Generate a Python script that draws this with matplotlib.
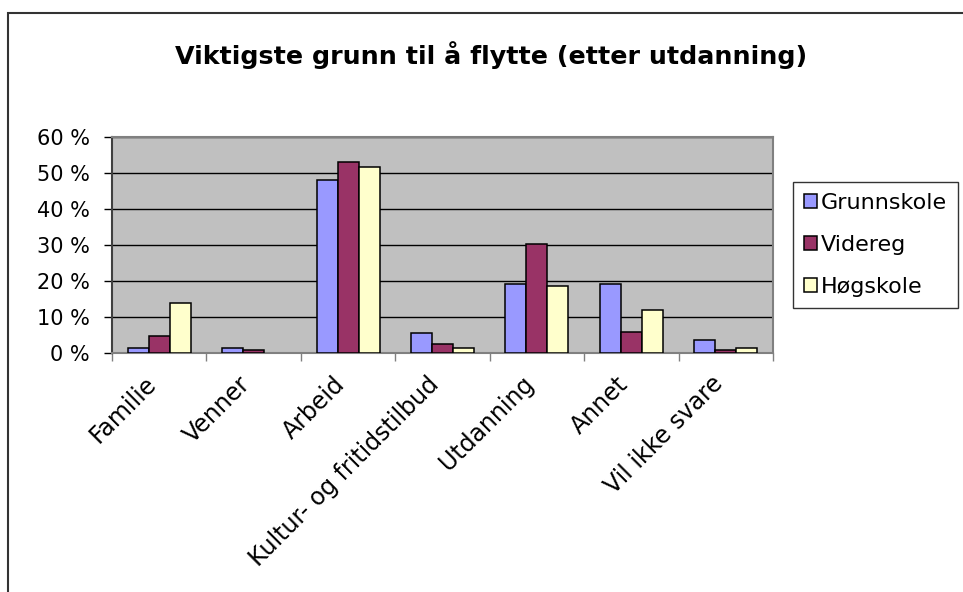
import matplotlib
matplotlib.use("Agg")
import matplotlib.pyplot as plt
import matplotlib.transforms as mtransforms
from matplotlib.patches import Patch, Rectangle
from matplotlib.ticker import FuncFormatter, FixedLocator
import numpy as np

# data (percent)
categories = ['Familie', 'Venner', 'Arbeid', 'Kultur- og fritidstilbud',
              'Utdanning', 'Annet', 'Vil ikke svare']
series_names = ['Grunnskole', 'Videreg', 'Høgskole']
grunnskole = [1.4, 1.5, 48.1, 5.6, 19.3, 19.3, 3.7]
videreg = [4.8, 0.9, 53.1, 2.6, 30.3, 6.0, 0.9]
hogskole = [13.8, 0.0, 51.5, 1.5, 18.7, 12.0, 1.5]
yticks = [0, 10, 20, 30, 40, 50, 60]

colors = ['#9999FF', '#993366', '#FFFFCC']

plt.rcParams['font.family'] = ['DejaVu Sans']

fig = plt.figure(figsize=(9.63, 5.92), dpi=100)
ax = fig.add_axes([112 / 963, 1 - 353.3 / 592, 661 / 963, 216.6 / 592])

# outer chart frame (only left and top edges are inside the picture)
fig.patches.append(Rectangle((7.5 / 963, -0.2), 1.2, 1 - 13 / 592 + 0.2,
                             transform=fig.transFigure, fill=False,
                             edgecolor='#333333', linewidth=1.5))

x = np.arange(len(categories))
w = 1 / 4.5
for i, (vals, col, name) in enumerate(zip([grunnskole, videreg, hogskole],
                                          colors, series_names)):
    bars = ax.bar(x + (i - 1) * w, vals, width=w, color=col, edgecolor='black',
                  linewidth=1.1, label=name, zorder=3)
    for b, v in zip(bars, vals):
        if v == 0:
            b.set_visible(False)

ax.set_facecolor('#C0C0C0')
ax.set_xlim(-0.5, len(categories) - 0.5)
ax.set_ylim(0, 60)
ax.set_yticks(yticks)
ax.yaxis.set_major_formatter(FuncFormatter(lambda v, p: f'{v:.0f} %'))
ax.grid(axis='y', color='black', linewidth=1, zorder=1)
ax.tick_params(axis='y', length=6, width=1, color='black', pad=10,
               labelsize=15, direction='out')

# ticks at category boundaries, no labels on them
ax.xaxis.set_major_locator(FixedLocator(np.arange(len(categories) + 1) - 0.5))
ax.set_xticklabels([])
ax.tick_params(axis='x', length=6, width=1, color='#808080', direction='out')

for sp in ['top', 'right']:
    ax.spines[sp].set_color('#808080')
    ax.spines[sp].set_linewidth(1.5)
ax.spines['left'].set_color('#404040')
ax.spines['left'].set_linewidth(1.5)
ax.spines['bottom'].set_color('#808080')
ax.spines['bottom'].set_linewidth(1.5)

# rotated category labels
offset = mtransforms.ScaledTranslation(-0.07, -0.27, fig.dpi_scale_trans)
for xi, lab in zip(x, categories):
    ax.text(xi, 0, lab, transform=ax.get_xaxis_transform() + offset,
            rotation=45, rotation_mode='anchor', ha='right', va='center',
            fontsize=17)

fig.text(491 / 963, 1 - 55 / 592, 'Viktigste grunn til å flytte (etter utdanning)',
         ha='center', va='center', fontsize=18.3, fontweight='bold')

handles = [Patch(facecolor=c, edgecolor='black', linewidth=1.1) for c in colors]
leg = fig.legend(handles, series_names, loc='upper left',
                 bbox_to_anchor=(793 / 963, 1 - 182 / 592),
                 fontsize=16, frameon=True, fancybox=False, shadow=False,
                 handlelength=0.6, handleheight=0.6, handletextpad=0.15,
                 labelspacing=0.98, borderpad=0.5, borderaxespad=0)
leg.get_frame().set_edgecolor('black')
leg.get_frame().set_linewidth(1)

fig.savefig('out.png', dpi=100)
